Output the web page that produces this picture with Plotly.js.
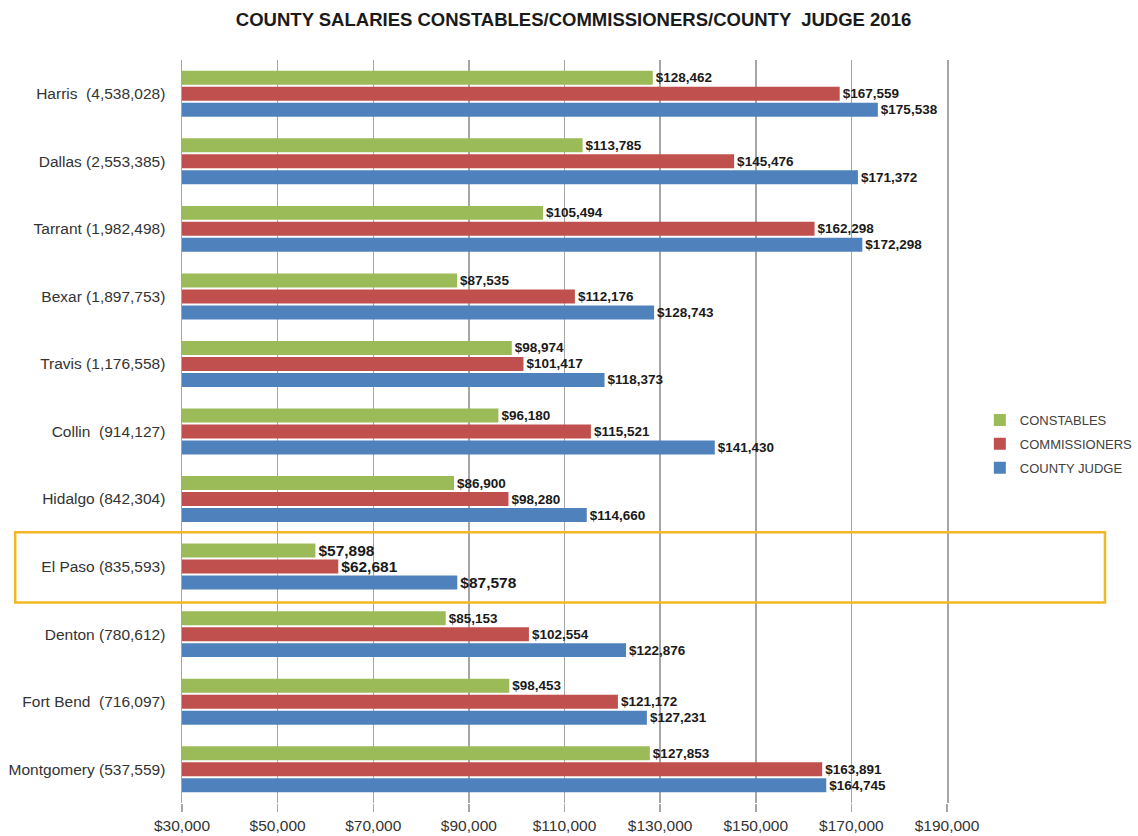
<!DOCTYPE html>
<html>
<head>
<meta charset="utf-8">
<script src="https://cdn.plot.ly/plotly-3.0.1.min.js"></script>
<style>html,body{margin:0;padding:0;background:#fff;}#chart{width:1138px;height:836px;}</style>
</head>
<body>
<div id="chart"></div>
<script>
const categories = [
  "Harris  (4,538,028)", "Dallas (2,553,385)", "Tarrant (1,982,498)", "Bexar (1,897,753)",
  "Travis (1,176,558)", "Collin  (914,127)", "Hidalgo (842,304)", "El Paso (835,593)",
  "Denton (780,612)", "Fort Bend  (716,097)", "Montgomery (537,559)"
];
const constables    = [128462, 113785, 105494, 87535, 98974, 96180, 86900, 57898, 85153, 98453, 127853];
const commissioners = [167559, 145476, 162298, 112176, 101417, 115521, 98280, 62681, 102554, 121172, 163891];
const countyJudge   = [175538, 171372, 172298, 128743, 118373, 141430, 114660, 87578, 122876, 127231, 164745];
const seriesNames = ["CONSTABLES", "COMMISSIONERS", "COUNTY JUDGE"];
const xTickVals = [30000, 50000, 70000, 90000, 110000, 130000, 150000, 170000, 190000];
const highlighted = "El Paso (835,593)";

const FONT = '"Liberation Sans", Arial, sans-serif';
const colors = ["#9bbb59", "#c0504d", "#4f81bd"];
const labelSizes = categories.map(c => c === highlighted ? 15.5 : 13.5);

const traces = [constables, commissioners, countyJudge].map((vals, i) => ({
  type: "bar",
  orientation: "h",
  name: seriesNames[i],
  legendgroup: "g" + i,
  y: categories,
  x: vals,
  marker: { color: colors[i] },
  texttemplate: "$%{x:,}",
  textposition: "outside",
  constraintext: "none",
  cliponaxis: false,
  textfont: { family: FONT, size: labelSizes, color: "#1a1a1a", weight: "bold" },
  hoverinfo: "x+y"
}));

const elIdx = categories.indexOf(highlighted);

const layout = {
  width: 1138, height: 836,
  margin: { l: 182, r: 191, t: 60, b: 33, autoexpand: false },
  paper_bgcolor: "#ffffff", plot_bgcolor: "#ffffff",
  barmode: "group", bargap: 0.29, bargroupgap: 0.125,
  title: {
    text: "<b>COUNTY SALARIES CONSTABLES/COMMISSIONERS/COUNTY  JUDGE 2016</b>",
    font: { family: FONT, size: 18.5, color: "#1a1a1a" },
    x: 0.504, xref: "container", xanchor: "center",
    y: 0.977, yref: "container", yanchor: "middle"
  },
  xaxis: {
    range: [30000, 190000],
    tickvals: xTickVals,
    tickformat: "$,d",
    showgrid: true, gridcolor: "#a6a6a6", gridwidth: 1.5,
    zeroline: false, showline: false,
    ticks: "outside", ticklen: 8, tickcolor: "#a6a6a6", tickwidth: 1.5,
    tickfont: { family: FONT, size: 15.5, color: "#333333" }
  },
  yaxis: {
    type: "category",
    autorange: "reversed",
    showgrid: false, zeroline: false,
    showline: true, mirror: true, linecolor: "#a6a6a6", linewidth: 1.5,
    ticks: "", ticklabelstandoff: 12,
    tickfont: { family: FONT, size: 15.5, color: "#333333" }
  },
  legend: {
    xref: "container", yref: "container",
    x: 0.861, xanchor: "left", y: 0.5156, yanchor: "top",
    traceorder: "grouped", tracegroupgap: 4,
    font: { family: FONT, size: 13, color: "#404040" },
    bgcolor: "rgba(0,0,0,0)"
  },
  shapes: [{
    type: "rect", xref: "paper", yref: "y",
    x0: -0.218, x1: 1.2065, y0: elIdx - 0.51, y1: elIdx + 0.53,
    line: { color: "#f2b722", width: 2.5 }, fillcolor: "rgba(0,0,0,0)", layer: "above"
  }],
  showlegend: true
};

Plotly.newPlot("chart", traces, layout, { displayModeBar: false, staticPlot: true });
</script>
</body>
</html>
